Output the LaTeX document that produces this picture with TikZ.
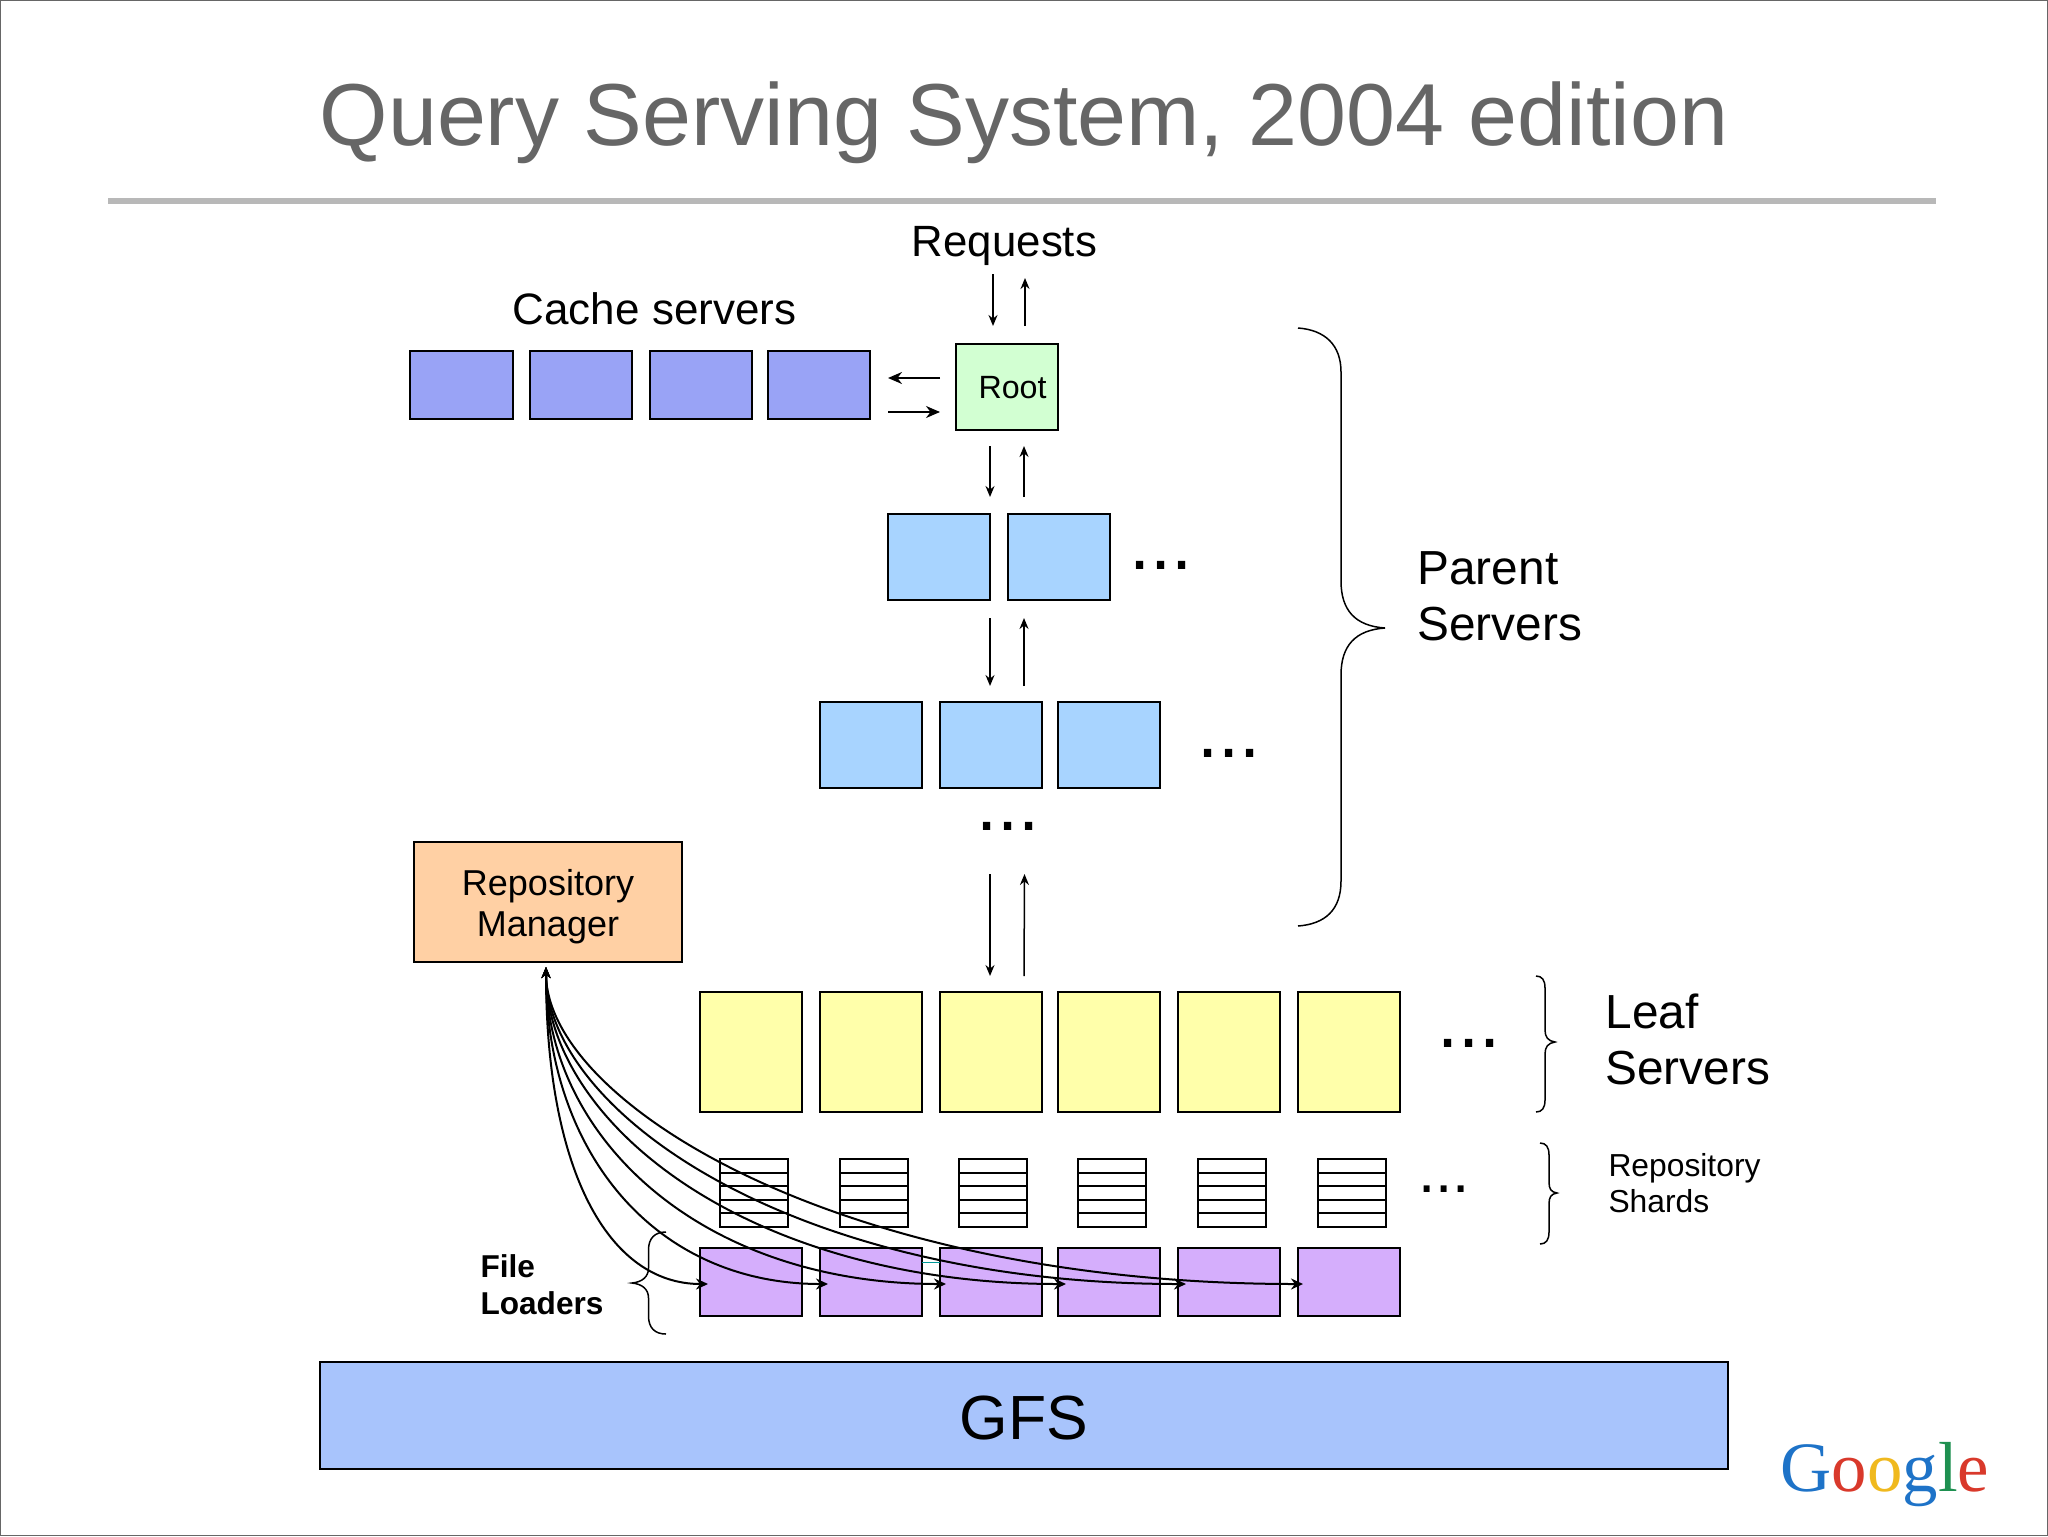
\documentclass[tikz,border=0pt]{standalone}
\usepackage{fontspec}
\setmainfont{Liberation Sans}
\newfontfamily\logofont{Liberation Serif}
\usetikzlibrary{arrows.meta}
\definecolor{cacheC}{HTML}{99A3F6}
\definecolor{rootC}{HTML}{D2FFD2}
\definecolor{parentC}{HTML}{A8D4FF}
\definecolor{leafC}{HTML}{FFFFAA}
\definecolor{loadC}{HTML}{D5AEFC}
\definecolor{mgrC}{HTML}{FFD0A4}
\definecolor{gfsC}{HTML}{A8C4FC}
\definecolor{titleC}{HTML}{666666}
\definecolor{ruleC}{HTML}{B8B8B8}
\definecolor{gBlue}{HTML}{1E73C8}
\definecolor{gRed}{HTML}{D9392B}
\definecolor{gYellow}{HTML}{F0B91E}
\definecolor{gGreen}{HTML}{1E9050}
\newcommand{\fs}[1]{\fontsize{#1}{#1}\selectfont}
\newcommand{\bx}[6]{\node[box,fill=#6,minimum width={(#4-#2)*0.5pt},minimum height={(#5-#3)*0.5pt}] (#1) at ({(#2+#4)/2},{(#3+#5)/2}) {};}
\newcommand{\conn}[6][arr]{\coordinate (#2a) at (#3,#4); \coordinate (#2b) at (#5,#6); \draw[#1] (#2a) -- (#2b);}
\newcommand{\lbl}[5][base west]{\node[txt,anchor=#1] (#2) at (#3,#4) {#5};}
\tikzset{
  box/.style={draw=black,line width=1pt,inner sep=0pt,outer sep=0pt},
  arr/.style={line width=.75pt,-{Stealth[length=5.5pt,width=4.5pt]}},
  harr/.style={line width=1pt,-{Stealth[length=7pt,width=6pt]}},
  curveA/.style={line width=1pt,{Stealth[length=5.5pt,width=4.5pt]}-{Stealth[length=6pt,width=5.5pt]}},
  brace/.style={line width=.75pt,black},
  txt/.style={inner sep=0pt,outer sep=0pt,text=black,align=left},
}
\begin{document}
\begin{tikzpicture}[x=.5pt,y=-.5pt]
\useasboundingbox (0,0) rectangle (2048,1536);
\fill[white] (0,0) rectangle (2048,1536);
\draw[titleC,line width=.75pt] (.7,.7) rectangle (2047.3,1535.3);
\node[txt,text=titleC,anchor=base] (title) at (1024,145) {\fs{44}Query Serving System, 2004 edition};
\coordinate (ruleL) at (108,201); \coordinate (ruleR) at (1936,201);
\draw[ruleC,line width=3pt] (ruleL) -- (ruleR);
% cache
\bx{c1}{410}{351}{513}{419}{cacheC}
\bx{c2}{530}{351}{632}{419}{cacheC}
\bx{c3}{650}{351}{752}{419}{cacheC}
\bx{c4}{768}{351}{870}{419}{cacheC}
\bx{root}{956}{344}{1058}{430}{rootC}
\bx{p1}{888}{514}{990}{600}{parentC}
\bx{p2}{1008}{514}{1110}{600}{parentC}
\bx{q1}{820}{702}{922}{788}{parentC}
\bx{q2}{940}{702}{1042}{788}{parentC}
\bx{q3}{1058}{702}{1160}{788}{parentC}
\bx{mgr}{414}{842}{682}{962}{mgrC}
\foreach \n/\x in {1/700,2/820,3/940,4/1058,5/1178,6/1298}{
  \bx{leaf\n}{\x}{992}{\x+102}{1112}{leafC}
  \bx{load\n}{\x}{1248}{\x+102}{1316}{loadC}
}
\foreach \n/\x in {1/720,2/839.5,3/959,4/1078,5/1198,6/1317.5}{
  \bx{shard\n}{\x}{1159}{\x+68}{1227}{white}
  \foreach \yy in {1172.6,1186.2,1199.8,1213.4}{
    \draw[line width=1pt] (shard\n.west |- 0,\yy) -- (shard\n.east |- 0,\yy);
  }
}
\bx{gfs}{320}{1362}{1728}{1469}{gfsC}
% teal speck
\draw[color=teal!80!cyan,line width=.8pt] (load2.east |- 0,1262.5) -- (load3.west |- 0,1262.5);
% arrows
\conn{rd}{993}{274}{993}{326}
\conn{ru}{1025}{326}{1025}{278}
\conn[harr]{cl}{940}{378}{888}{378}
\conn[harr]{cr}{888}{412}{940}{412}
\conn{ad}{990}{446}{990}{497}
\conn{au}{1024}{497}{1024}{446}
\conn{bd}{990}{618}{990}{686}
\conn{bu}{1024}{686}{1024}{618}
\conn{dd}{990}{874}{990}{976}
\conn{du}{1024}{976}{1024.5}{874}
% curves
\coordinate (mgrtip) at (546,967);
\foreach \n/\xe/\pa/\pb in {1/708/1170/608,2/828/1150/653,3/946/1135/698,4/1066/1120/744,5/1186/1110/789,6/1303/1100/834}{
  \coordinate (tip\n) at (\xe,1284);
  \draw[curveA] (mgrtip) .. controls (546,\pa) and (\pb,1284) .. (tip\n);
}
% braces
\draw[brace] (1298,328) .. controls (1325,330) and (1341,345) .. (1341,372) -- (1341,581) .. controls (1341,610) and (1355,626) .. (1385,628) .. controls (1355,630) and (1341,646) .. (1341,675) -- (1341,881) .. controls (1341,910) and (1325,924) .. (1298,926);
\draw[brace] (1536,976) .. controls (1542,976) and (1545,980) .. (1545,988) -- (1545,1030) .. controls (1545,1037) and (1548,1041) .. (1555,1042) .. controls (1548,1043) and (1545,1047) .. (1545,1054) -- (1545,1100) .. controls (1545,1108) and (1542,1112) .. (1536,1112);
\draw[brace] (1540,1143) .. controls (1546,1143) and (1549,1147) .. (1549,1155) -- (1549,1182) .. controls (1549,1189) and (1551,1192) .. (1557,1193) .. controls (1551,1194) and (1549,1197) .. (1549,1204) -- (1549,1232) .. controls (1549,1240) and (1546,1244) .. (1540,1244);
\draw[brace] (666,1232) .. controls (655,1232) and (648.5,1238) .. (648.5,1250) -- (648.5,1268) .. controls (648.5,1277) and (642,1282) .. (632,1283) .. controls (642,1284) and (648.5,1289) .. (648.5,1298) -- (648.5,1316) .. controls (648.5,1328) and (655,1334) .. (666,1334);
% labels
\lbl[base]{treq}{1004.5}{256}{\fs{21.9}Requests}
\lbl[base]{tcache}{654.5}{324}{\fs{22}Cache servers}
\lbl{troot}{978.5}{398}{\fs{16.1}Root}
\lbl{tp1}{1417.5}{584}{\fs{23.9}Parent}
\lbl{tp2}{1417.5}{640}{\fs{23.9}Servers}
\lbl[base]{tm1}{548}{895}{\fs{18}Repository}
\lbl[base]{tm2}{548}{936}{\fs{18}Manager}
\lbl{tl1}{1605.5}{1028}{\fs{23.9}Leaf}
\lbl{tl2}{1605.5}{1084}{\fs{23.9}Servers}
\lbl{ts1}{1608.5}{1176}{\fs{15.9}Repository}
\lbl{ts2}{1608.5}{1212}{\fs{15.9}Shards}
\lbl{tf1}{480.5}{1277}{\fs{15.8}\bfseries File}
\lbl{tf2}{480.5}{1314}{\fs{15.8}\bfseries Loaders}
\lbl[base]{tg}{1024}{1439}{\fs{31.2}GFS}
\lbl[base]{d1}{1161}{569}{\fs{38}...}
\lbl[base]{d2}{1229}{757}{\fs{38}...}
\lbl[base]{d3}{1008}{830}{\fs{38}...}
\lbl[base]{d4}{1469}{1047}{\fs{38}...}
\lbl[base]{d5}{1444}{1192}{\fs{31}...}
\node[txt,anchor=base] (logo) at (1885,1491) {\logofont\fs{35.4}\textcolor{gBlue}{G}\textcolor{gRed}{o}\textcolor{gYellow}{o}\textcolor{gBlue}{g}\textcolor{gGreen}{l}\textcolor{gRed}{e}};
\end{tikzpicture}
\end{document}
